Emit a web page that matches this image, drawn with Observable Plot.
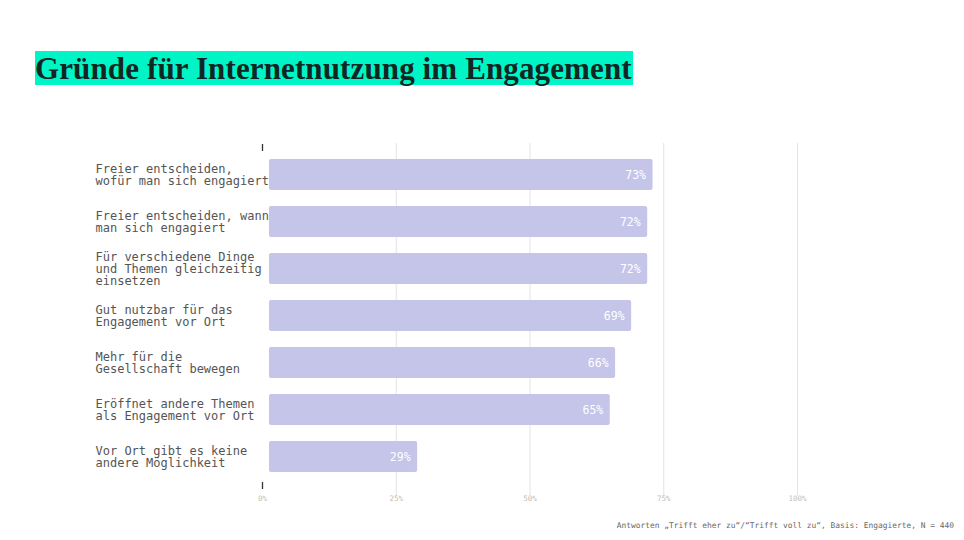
<!DOCTYPE html>
<html><head><meta charset="utf-8">
<script src="https://cdn.jsdelivr.net/npm/d3@7"></script>
<script src="https://cdn.jsdelivr.net/npm/@observablehq/plot@0.6"></script>
<style>
html,body{margin:0;padding:0;background:#fff;}
#wrap{position:relative;width:964px;height:540px;overflow:hidden;}
#title{position:absolute;left:35px;top:51px;height:34px;line-height:35px;background:#00f5c6;color:#112622;font-family:"Liberation Serif",serif;font-weight:bold;font-size:31px;letter-spacing:0.12px;white-space:nowrap;padding:0 1px 0 0;}
#caption{position:absolute;right:10px;top:521px;font-family:"DejaVu Sans Mono",monospace;font-size:7.9px;color:#666;white-space:nowrap;}
#chart{position:absolute;left:0;top:0;}
</style></head>
<body><div id="wrap">
<div id="chart"></div>
<div id="title">Gründe für Internetnutzung im Engagement</div>
<div id="caption">Antworten „Trifft eher zu“/“Trifft voll zu“, Basis: Engagierte, N = 440</div>
</div>
<script>
const categories = [
  "Freier entscheiden,\nwofür man sich engagiert",
  "Freier entscheiden, wann\nman sich engagiert",
  "Für verschiedene Dinge\nund Themen gleichzeitig\neinsetzen",
  "Gut nutzbar für das\nEngagement vor Ort",
  "Mehr für die\nGesellschaft bewegen",
  "Eröffnet andere Themen\nals Engagement vor Ort",
  "Vor Ort gibt es keine\nandere Möglichkeit"
];
const values = [73, 72, 72, 69, 66, 65, 29];
const xTicks = [0, 25, 50, 75, 100];
const gridTicks = [25, 50, 75, 100];

const data = categories.map((c, i) => ({category: c, value: values[i]}));

const chart = Plot.plot({
  width: 964,
  height: 540,
  marginLeft: 262,
  marginRight: 167,
  marginTop: 143,
  marginBottom: 51,
  style: {fontFamily: "'DejaVu Sans Mono', monospace", background: "transparent"},
  x: {domain: [0, 100], axis: null},
  y: {domain: categories, padding: 0.34, axis: null},
  marks: [
    Plot.ruleX(gridTicks, {stroke: "#e3e3e3", strokeWidth: 1}),
    Plot.axisX({anchor: "bottom", ticks: gridTicks, tickSize: 7, stroke: "#e3e3e3", tickFormat: () => "", label: null}),
    Plot.axisX({anchor: "bottom", ticks: xTicks, tickSize: 0, tickPadding: 6, fontSize: 7.5, fill: "#bdbdbd", tickFormat: d => d + "%", label: null}),
    Plot.axisX({anchor: "top", ticks: [0], tickSize: -7, stroke: "#333", strokeWidth: 1.3, tickFormat: () => "", label: null}),
    Plot.axisX({anchor: "bottom", ticks: [0], tickSize: -7, stroke: "#333", strokeWidth: 1.3, tickFormat: () => "", label: null}),
    Plot.barX(data, {y: "category", x: "value", fill: "#c5c4e9", insetLeft: 7, rx: 2}),
    Plot.text(data, {y: "category", x: "value", text: d => d.value + "%", textAnchor: "end", dx: -7, fill: "#fff", fontSize: 11.5}),
    Plot.text(data, {y: "category", frameAnchor: "left", text: "category", textAnchor: "start", dx: -167, fill: "#555", fontSize: 12, lineHeight: 1.02})
  ]
});
document.getElementById("chart").appendChild(chart);
</script>
</body></html>
